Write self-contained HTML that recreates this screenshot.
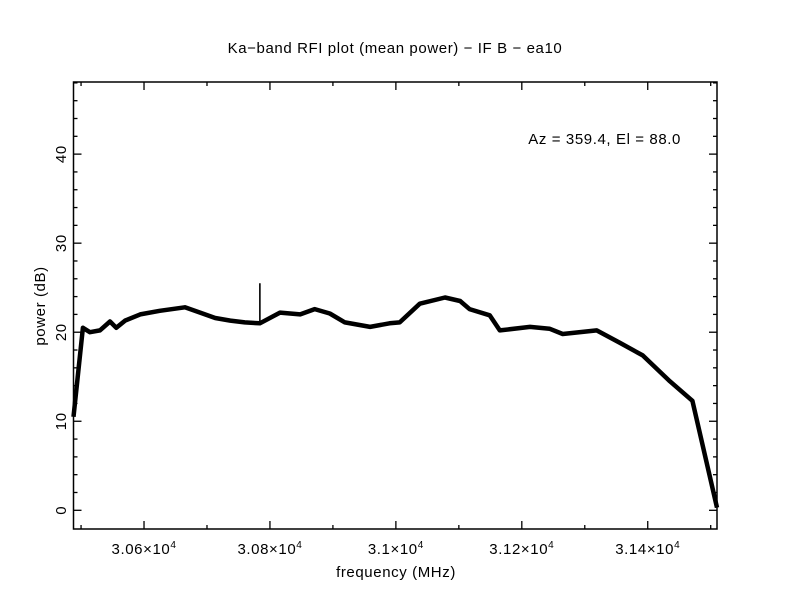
<!DOCTYPE html>
<html><head><meta charset="utf-8"><style>
html,body{margin:0;padding:0;background:#fff;}
svg{display:block;font-family:"Liberation Sans",sans-serif;}
text{letter-spacing:0.6px;}
</style></head><body>
<svg id="chart" width="792" height="612" viewBox="0 0 792 612" xmlns="http://www.w3.org/2000/svg">
<rect width="792" height="612" fill="#fff"/>
<text x="395" y="53" text-anchor="middle" font-size="15">Ka−band RFI plot (mean power) − IF B − ea10</text>
<text x="681" y="144" text-anchor="end" font-size="15">Az = 359.4, El = 88.0</text>
<text x="396" y="577" text-anchor="middle" font-size="15">frequency (MHz)</text>
<text transform="translate(45,306) rotate(-90)" text-anchor="middle" font-size="15">power (dB)</text>
<g id="axes"></g>
<g id="series"></g>
<rect x="73.5" y="82" width="643.5" height="447" fill="none" stroke="#000" stroke-width="1.5"/>
</svg>
<script>
const freqs = [30488,30503,30514,30530,30546,30556,30570,30594,30625,30665,30689,30713,30737,30760,30784,30816,30848,30871,30895,30919,30959,30990,31006,31038,31078,31102,31117,31149,31165,31213,31244,31265,31319,31356,31392,31435,31471,31510];
const power = [10.5,20.5,20.0,20.2,21.2,20.5,21.3,22.0,22.4,22.8,22.2,21.6,21.3,21.1,21.0,22.2,22.0,22.6,22.1,21.1,20.6,21.0,21.1,23.2,23.9,23.5,22.6,21.9,20.2,20.6,20.4,19.8,20.2,18.8,17.4,14.5,12.3,0.3];
const spikeFreq = [30784];
const spikePower = [25.5];
const xMajorTicks = [30600,30800,31000,31200,31400];
const xTickLabels = ["3.06","3.08","3.1","3.12","3.14"];
const xMinorTicks = [30500,30700,30900,31100,31300,31500];
const yMajorTicks = [0,10,20,30,40];
const yTickLabels = ["0","10","20","30","40"];

const L=73.5,R=717,T=82,B=529;
const xMin=30488,xMax=31510,yMin=-2.1,yMax=48.1;
function xs(v){return L+(v-xMin)/(xMax-xMin)*(R-L);}
function ys(v){return B-(v-yMin)/(yMax-yMin)*(B-T);}
const NS="http://www.w3.org/2000/svg";
const axes=document.getElementById('axes');
function line(x1,y1,x2,y2,name,parent,w){
  const l=document.createElementNS(NS,'line');
  l.setAttribute('x1',x1);l.setAttribute('y1',y1);l.setAttribute('x2',x2);l.setAttribute('y2',y2);
  l.setAttribute('stroke','#000');l.setAttribute('stroke-width',w||'1.3');
  
  
  (parent||axes).appendChild(l);
}
xMajorTicks.forEach((v,i)=>{
  const x=xs(v);
  line(x,B,x,B-8,'x-major-tick');
  line(x,T,x,T+8,'x-major-tick-top');
  const t=document.createElementNS(NS,'text');
  t.setAttribute('x',x);t.setAttribute('y',B+25);t.setAttribute('text-anchor','middle');t.setAttribute('font-size','15');
  t.innerHTML=xTickLabels[i]+'×10<tspan font-size="10" dy="-6">4</tspan>';
  
  
  axes.appendChild(t);
});
xMinorTicks.forEach(v=>{const x=xs(v);line(x,B,x,B-4,'x-minor-tick');line(x,T,x,T+4,'x-minor-tick-top');});
for(let v=0;v<=48;v+=2){
  const y=ys(v);const major=v%10===0;const len=major?8:4;
  line(L,y,L+len,y,'y-tick');line(R,y,R-len,y,'y-tick-right');
}
yMajorTicks.forEach((v,i)=>{
  const y=ys(v);
  const t=document.createElementNS(NS,'text');
  t.setAttribute('transform','translate(66,'+y+') rotate(-90)');
  t.setAttribute('text-anchor','middle');t.setAttribute('font-size','15');
  t.textContent=yTickLabels[i];
  
  
  axes.appendChild(t);
});
const series=document.getElementById('series');
const p=document.createElementNS(NS,'path');
p.setAttribute('d',freqs.map((f,i)=>(i?'L':'M')+xs(f).toFixed(1)+','+ys(power[i]).toFixed(1)).join(''));
p.setAttribute('fill','none');p.setAttribute('stroke','#000');p.setAttribute('stroke-width','4.5');p.setAttribute('stroke-linejoin','round');


series.appendChild(p);
spikeFreq.forEach((f,i)=>{
  line(xs(f),ys(21),xs(f),ys(spikePower[i]),'rfi-spike',series,'1.6');
});
</script>
</body></html>
